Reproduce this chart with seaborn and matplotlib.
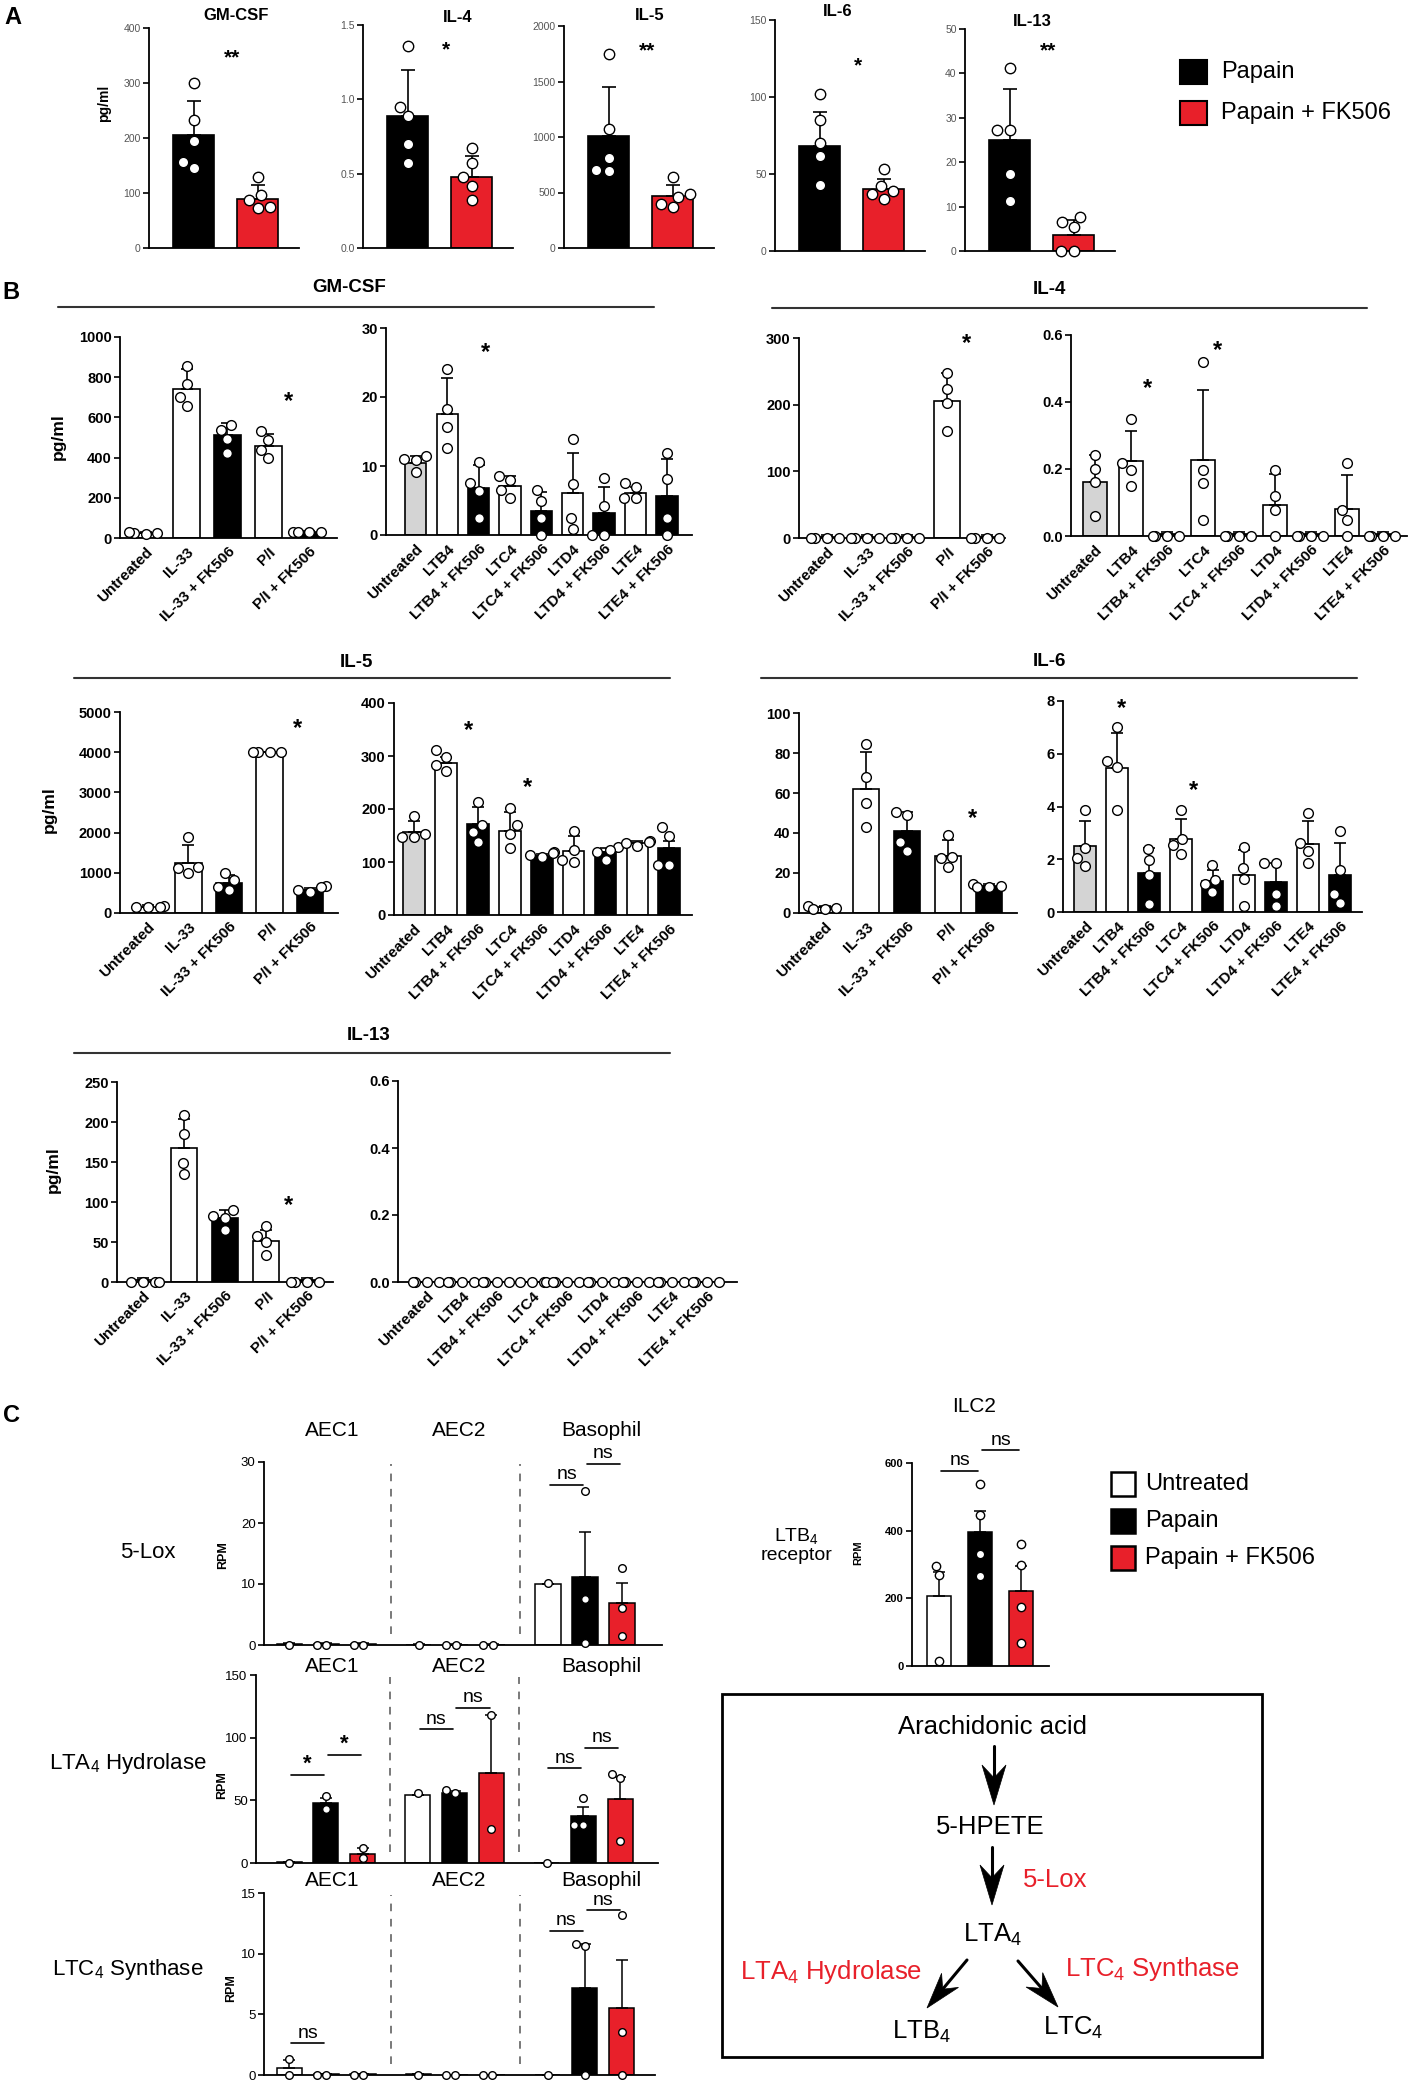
import warnings
warnings.filterwarnings('ignore')
import numpy as np
import pandas as pd
import matplotlib
matplotlib.use('Agg')
import matplotlib.pyplot as plt
from matplotlib.patches import Rectangle, Polygon
from matplotlib.lines import Line2D
import seaborn as sns

# ======================= DATA =======================
# ---- Panel A ----
A_cytokines = ['GM-CSF', 'IL-4', 'IL-5', 'IL-6', 'IL-13']
A_groups = ['Papain', 'Papain + FK506']
A_means = [[205, 90], [0.89, 0.48], [1010, 470], [68, 40], [25, 3.5]]
A_errs = [[63, 24], [0.305, 0.14], [440, 95], [22, 7], [11.4, 3.5]]
A_points = [
    [[300, 232, 195, 157, 145], [129, 97, 88, 75, 72]],
    [[1.36, 0.95, 0.89, 0.70, 0.57], [0.67, 0.57, 0.48, 0.42, 0.32]],
    [[1750, 1070, 810, 700, 690], [640, 486, 462, 394, 365]],
    [[102, 85, 70, 62, 43], [53, 42, 39, 37, 34]],
    [[41.2, 27.3, 27.3, 17.3, 11.2], [7.7, 6.5, 5.4, 0, 0]],
]
A_ymax = [400, 1.5, 2000, 150, 50]
A_ystep = [100, 0.5, 500, 50, 10]
A_stars = ['**', '*', '**', '*', '**']
A_star_y = [345, 1.33, 1780, 120, 45]

# ---- Panel B ----
B_cytokines = ['GM-CSF', 'IL-4', 'IL-5', 'IL-6', 'IL-13']
B_left_cats = ['Untreated', 'IL-33', 'IL-33 + FK506', 'P/I', 'P/I + FK506']
B_right_cats = ['Untreated', 'LTB4', 'LTB4 + FK506', 'LTC4', 'LTC4 + FK506',
                'LTD4', 'LTD4 + FK506', 'LTE4', 'LTE4 + FK506']
B_left_colors = ['white', 'white', 'black', 'white', 'black']
B_right_colors = ['#d4d4d4', 'white', 'black', 'white', 'black', 'white', 'black', 'white', 'black']

B_left_means = {
    'GM-CSF': [25, 740, 510, 458, 30],
    'IL-4': [2, 2, 2, 205, 2],
    'IL-5': [150, 1256, 749, 4002, 582],
    'IL-6': [2.8, 62, 41, 28.6, 13.3],
    'IL-13': [3, 168, 80.6, 51, 3],
}
B_left_errs = {
    'GM-CSF': [3, 100, 63, 60, 4],
    'IL-4': [2.5, 2.5, 2.5, 42, 2.5],
    'IL-5': [50, 433, 208, 0, 50],
    'IL-6': [0.8, 18.6, 9.5, 7.7, 1],
    'IL-13': [2, 35.5, 9, 14, 2],
}
B_left_points = {
    'GM-CSF': [[22, 25, 28, 25], [857, 768, 701, 655], [564, 539, 493, 423],
               [531, 489, 440, 398], [28, 30, 32, 28]],
    'IL-4': [[0, 0, 0, 0], [0, 0, 0, 0], [0, 0, 0, 0], [247, 224, 203, 160], [0, 0, 0, 0]],
    'IL-5': [[150, 170, 160, 140], [1900, 1150, 1130, 1000], [990, 824, 640, 574],
             [4000, 4000, 4000, 4000], [660, 640, 560, 520]],
    'IL-6': [[2, 3.7, 2.5, 2], [84.7, 67.8, 54.8, 42.9], [49, 50.5, 35.5, 31],
             [39, 28.2, 27.3, 22.9], [14.6, 13.6, 13, 13]],
    'IL-13': [[0, 0, 0, 0], [208.5, 185.6, 148.3, 134.5], [90, 82, 80, 65],
              [70, 57.7, 49.4, 33.2], [0, 0, 0, 0]],
}
B_right_means = {
    'GM-CSF': [10.4, 17.5, 6.8, 7.1, 3.5, 6.1, 3.2, 6.1, 5.7],
    'IL-4': [0.16, 0.223, 0.006, 0.226, 0.006, 0.094, 0.006, 0.082, 0.006],
    'IL-5': [156, 287, 172, 159, 112, 121, 118, 135, 126],
    'IL-6': [2.49, 5.47, 1.49, 2.76, 1.18, 1.39, 1.14, 2.59, 1.42],
    'IL-13': [0, 0, 0, 0, 0, 0, 0, 0, 0],
}
B_right_errs = {
    'GM-CSF': [1.0, 5.2, 3.4, 1.4, 2.7, 5.8, 3.7, 0.8, 5.3],
    'IL-4': [0.083, 0.091, 0.006, 0.21, 0.006, 0.092, 0.006, 0.099, 0.006],
    'IL-5': [22, 12, 31, 35, 3, 29, 8, 4, 14],
    'IL-6': [0.96, 1.32, 0.94, 0.75, 0.4, 0.95, 0.73, 0.86, 1.21],
    'IL-13': [0, 0, 0, 0, 0, 0, 0, 0, 0],
}
B_right_points = {
    'GM-CSF': [[11.5, 11, 10.8, 9.1], [24.1, 18.3, 15.7, 12.6], [10.6, 7.5, 6.4, 2.5],
               [8.6, 8, 6.5, 5.4], [6.5, 5.0, 2.5, 0], [13.9, 7.4, 2.5, 0.9],
               [8.2, 4.2, 0, 0], [7.6, 7, 5.3, 5.3], [11.9, 8.1, 2.5, 0]],
    'IL-4': [[0.243, 0.2, 0.16, 0.06], [0.349, 0.218, 0.198, 0.149], [0, 0, 0, 0],
             [0.518, 0.198, 0.158, 0.049], [0, 0, 0, 0], [0.198, 0.119, 0.079, 0],
             [0, 0, 0, 0], [0.218, 0.079, 0.049, 0], [0, 0, 0, 0]],
    'IL-5': [[187, 153, 147, 147], [311, 299, 283, 271], [214, 170, 156, 137],
             [202, 170, 153, 126], [118, 117, 113, 110], [159, 123, 104, 100],
             [129, 123, 118, 104], [139, 137, 135, 131], [166, 150, 94, 94]],
    'IL-6': [[3.86, 2.44, 2.05, 1.74], [7.02, 5.72, 5.5, 3.86], [2.38, 1.96, 1.39, 0.29],
             [3.86, 2.78, 2.53, 2.21], [1.77, 1.23, 1.07, 0.76], [2.47, 1.68, 1.26, 0.21],
             [1.87, 1.87, 0.7, 0.21], [3.75, 2.62, 2.31, 1.87], [3.06, 1.6, 0.7, 0.34]],
    'IL-13': [[0, 0, 0, 0]] * 9,
}
B_left_ymax = {'GM-CSF': 1000, 'IL-4': 300, 'IL-5': 5000, 'IL-6': 100, 'IL-13': 250}
B_left_ystep = {'GM-CSF': 200, 'IL-4': 100, 'IL-5': 1000, 'IL-6': 20, 'IL-13': 50}
B_right_ymax = {'GM-CSF': 30, 'IL-4': 0.6, 'IL-5': 400, 'IL-6': 8, 'IL-13': 0.6}
B_right_ystep = {'GM-CSF': 10, 'IL-4': 0.2, 'IL-5': 100, 'IL-6': 2, 'IL-13': 0.2}
B_left_star = {'GM-CSF': (3.5, 677), 'IL-4': (3.5, 291), 'IL-5': (3.68, 4577),
               'IL-6': (3.6, 47), 'IL-13': (3.54, 96)}
B_right_stars = {'GM-CSF': [(2.23, 26.5)], 'IL-4': [(1.47, 0.44), (3.4, 0.555)],
                 'IL-5': [(1.7, 349), (3.54, 241)], 'IL-6': [(1.13, 7.7), (3.4, 4.59)],
                 'IL-13': []}

# ---- Panel C ----
C_cells = ['AEC1', 'AEC2', 'Basophil']
C_conditions = ['Untreated', 'Papain', 'Papain + FK506']
C_genes = ['5-Lox', 'LTA$_4$ Hydrolase', 'LTC$_4$ Synthase']
lox_means = [0.15, 0.15, 0.15, 0.08, 0.08, 0.08, 10.0, 11.2, 6.9]
lox_errs = [0.1, 0.1, 0.1, 0.05, 0.05, 0.05, 0, 7.4, 3.3]
lox_points = [[0], [0, 0], [0, 0], [0], [0, 0], [0, 0], [10.2], [25.3, 7.5, 0.3], [12.7, 6.0, 1.5]]
lta_means = [1, 48.1, 7.4, 54.2, 56.1, 72.2, 0, 37.6, 51.1]
lta_errs = [0, 3.5, 4.5, 0, 1.3, 45.5, 0, 7.4, 17.7]
lta_points = [[0], [53.4, 42.9], [11.9, 4], [56.1], [58.2, 55.6], [118, 27], [0],
              [51.6, 30.4, 30.4], [71.4, 67.5, 17.7]]
ltc_means = [0.55, 0.05, 0.05, 0.05, 0.02, 0.02, 0, 7.18, 5.54]
ltc_errs = [0.68, 0.03, 0.03, 0.03, 0, 0, 0, 3.6, 3.9]
ltc_points = [[1.29, 0], [0, 0], [0, 0], [0], [0, 0], [0, 0], [0], [10.8, 10.6, 0], [13.2, 3.56, 0]]
C_ymax = [30, 150, 15]
C_ystep = [10, 50, 5]
# significance: (cell, cond_a, cond_b, height, label)
lox_sig = [('Basophil', 0, 1, 26.3, 'ns'), ('Basophil', 1, 2, 29.7, 'ns')]
lta_sig = [('AEC1', 0, 1, 70.6, '*'), ('AEC1', 1, 2, 86.5, '*'),
           ('AEC2', 0, 1, 107, 'ns'), ('AEC2', 1, 2, 124, 'ns'),
           ('Basophil', 0, 1, 75.4, 'ns'), ('Basophil', 1, 2, 92, 'ns')]
ltc_sig = [('AEC1', 0, 1, 2.6, 'ns'), ('Basophil', 0, 1, 11.9, 'ns'), ('Basophil', 1, 2, 13.6, 'ns')]

ilc2_means = [208, 395, 223]
ilc2_errs = [71, 64, 74]
ilc2_points = [[296, 269, 16], [538, 447, 331, 267], [362, 299, 174, 67]]
ilc2_sig = [(0, 1, 577, 'ns'), (1, 2, 637, 'ns')]

path_nodes = ['Arachidonic acid', '5-HPETE', 'LTA$_4$', 'LTB$_4$', 'LTC$_4$']
path_enzymes = ['5-Lox', 'LTA$_4$ Hydrolase', 'LTC$_4$ Synthase']

# ======================= STYLE =======================
RED = '#e8202a'
GRAY = '#d4d4d4'
C_colors = ['white', 'black', RED]

sns.set_theme(style='ticks')
plt.rcParams['font.family'] = ['Liberation Sans Narrow', 'Liberation Sans', 'DejaVu Sans']
plt.rcParams['mathtext.fontset'] = 'custom'
plt.rcParams['mathtext.rm'] = 'Liberation Sans'
plt.rcParams['mathtext.it'] = 'Liberation Sans:italic'
plt.rcParams['mathtext.bf'] = 'Liberation Sans:bold'
plt.rcParams['axes.edgecolor'] = 'black'
plt.rcParams['xtick.color'] = 'black'
plt.rcParams['ytick.color'] = 'black'
plt.rcParams['text.color'] = 'black'

W, H = 1409, 2083
fig = plt.figure(figsize=(W / 100, H / 100), dpi=100)
fig.patch.set_facecolor('white')
WIDE = ['Liberation Sans', 'DejaVu Sans']


def px_axes(left, top, right, bottom):
    return fig.add_axes([left / W, 1 - bottom / H, (right - left) / W, (bottom - top) / H])


def fp(x, y):
    return (x / W, 1 - y / H)


def ftext(x, y, s, **kw):
    kw.setdefault('ha', 'center')
    kw.setdefault('va', 'center')
    fig.text(x / W, 1 - y / H, s, **kw)


def hline_px(x1, x2, y, lw=1.5, color='#333333'):
    fig.add_artist(Line2D([x1 / W, x2 / W], [1 - y / H, 1 - y / H],
                          transform=fig.transFigure, lw=lw, color=color))


def style_ax(ax, ymax, step, xlim, fs, bold=False, color='black', family=None):
    ax.set_ylim(0, ymax)
    ticks = np.arange(0, ymax + step * 0.01, step)
    ax.set_yticks(ticks)
    labels = [f'{t:.1f}' for t in ticks] if step < 1 else [f'{t:g}' for t in ticks]
    kw = dict(fontsize=fs, fontweight='bold' if bold else 'normal', color=color)
    if family:
        kw['family'] = family
    ax.set_yticklabels(labels, **kw)
    ax.set_xlim(*xlim)
    for s in ['top', 'right']:
        ax.spines[s].set_visible(False)
    for s in ['left', 'bottom']:
        ax.spines[s].set_linewidth(1.3)
        ax.spines[s].set_color('black')
    ax.tick_params(axis='y', length=4, width=1.2, pad=2)
    ax.tick_params(axis='x', length=0)
    ax.set_xlabel('')
    ax.set_ylabel('')
    ax.set_facecolor('none')


def draw_bars(ax, xs, means, errs, colors, points, width, msize, capsize=4.5, lw=1.2):
    xs = np.asarray(xs, dtype=float)
    df = pd.DataFrame({'x': xs, 'y': means, 'k': [str(i) for i in range(len(xs))]})
    sns.barplot(data=df, x='x', y='y', hue='k', palette=list(colors), native_scale=True,
                dodge=False, width=width, edgecolor='black', linewidth=lw,
                errorbar=None, legend=False, ax=ax, saturation=1)
    e = np.asarray(errs, dtype=float)
    ax.errorbar(xs, means, yerr=[np.zeros_like(e), e], fmt='none', ecolor='black',
                elinewidth=lw, capsize=capsize, capthick=lw, zorder=3)
    n_before = len(ax.collections)
    pdf = pd.DataFrame({'x': np.repeat(xs, [len(p) for p in points]),
                        'y': np.concatenate([np.asarray(p, dtype=float) for p in points])})
    sns.swarmplot(data=pdf, x='x', y='y', native_scale=True, color='white',
                  edgecolor='black', linewidth=1.0, size=msize, ax=ax)
    for c in ax.collections[n_before:]:
        c.set_zorder(4)
        c.set_clip_on(False)


# ======================= PANEL A =======================
ftext(13, 18, 'A', fontsize=17, fontweight='bold', family=WIDE)
A_left = [149, 363, 564, 775, 965]
A_top = [28, 25, 26, 20, 29]
A_bottom = [248, 248, 248, 251, 251]
A_title_xy = [(236, 15), (458, 17), (650, 15), (838, 11), (1032, 22)]
for i, cyt in enumerate(A_cytokines):
    ax = px_axes(A_left[i], A_top[i], A_left[i] + 150, A_bottom[i])
    draw_bars(ax, [0, 1], A_means[i], A_errs[i], ['black', RED], A_points[i],
              width=0.65, msize=7.5, capsize=5)
    style_ax(ax, A_ymax[i], A_ystep[i], (-0.7, 1.65), 7.5, color='#555555')
    ax.set_xticks([])
    ax.text(0.6, A_star_y[i], A_stars[i], ha='center', va='center', fontsize=15,
            fontweight='bold')
    ftext(*A_title_xy[i], cyt, fontsize=12, fontweight='bold')
ftext(104, 103, 'pg/ml', fontsize=10, fontweight='bold', rotation=90)

# legend A
for j, (lab, col) in enumerate(zip(A_groups, ['black', RED])):
    y0 = 60 + j * 41
    fig.add_artist(Rectangle(fp(1180, y0 + 24), 27 / W, 24 / H,
                             transform=fig.transFigure, facecolor=col,
                             edgecolor='black', lw=1.5))
    ftext(1221, y0 + 12, lab, ha='left', fontsize=17, family=WIDE)

# ======================= PANEL B =======================
ftext(11, 293, 'B', fontsize=17, fontweight='bold', family=WIDE)
B_layout = {
    'GM-CSF': dict(title=(349, 288), line=(58, 654, 307), ylabel=(58, 437),
                   L=(120, 337, 337, 538), Lx=(-0.63, 4.68),
                   R=(386, 328, 692, 535), Rx=(-0.95, 8.8)),
    'IL-4': dict(title=(1049, 290), line=(772, 1367, 308), ylabel=None,
                 L=(799, 338, 1005, 538), Lx=(-0.7, 4.45),
                 R=(1071, 335, 1407, 536), Rx=(-0.67, 8.67)),
    'IL-5': dict(title=(356, 663), line=(74, 670, 678), ylabel=(49, 810),
                 L=(120, 712, 338, 913), Lx=(-0.69, 4.69),
                 R=(394, 703, 692, 915), Rx=(-0.63, 8.71)),
    'IL-6': dict(title=(1049, 662), line=(761, 1357, 678), ylabel=None,
                 L=(799, 713, 1017, 913), Lx=(-0.63, 4.68),
                 R=(1063, 701, 1362, 912), Rx=(-0.7, 8.7)),
    'IL-13': dict(title=(369, 1035), line=(74, 670, 1053), ylabel=(53, 1170),
                  L=(117, 1082, 333, 1282), Lx=(-0.63, 4.63),
                  R=(398, 1081, 737, 1282), Rx=(-0.83, 8.86)),
}
for cyt in B_cytokines:
    lay = B_layout[cyt]
    ftext(*lay['title'], cyt, fontsize=13.5, fontweight='bold')
    hline_px(lay['line'][0], lay['line'][1], lay['line'][2])
    if lay['ylabel']:
        ftext(*lay['ylabel'], 'pg/ml', fontsize=12.5, fontweight='bold', rotation=90)
    # left
    axl = px_axes(*lay['L'])
    xl = np.arange(len(B_left_cats))
    draw_bars(axl, xl, B_left_means[cyt], B_left_errs[cyt], B_left_colors,
              B_left_points[cyt], width=0.65, msize=7)
    style_ax(axl, B_left_ymax[cyt], B_left_ystep[cyt], lay['Lx'], 10.5, bold=True)
    axl.set_xticks(xl)
    axl.set_xticklabels(B_left_cats, rotation=45, ha='right', rotation_mode='anchor',
                        fontsize=11, fontweight='bold')
    axl.tick_params(axis='x', pad=5)
    sx, sy = B_left_star[cyt]
    axl.text(sx, sy, '*', ha='center', va='center', fontsize=17, fontweight='bold')
    # right
    axr = px_axes(*lay['R'])
    xr = np.arange(len(B_right_cats))
    draw_bars(axr, xr, B_right_means[cyt], B_right_errs[cyt], B_right_colors,
              B_right_points[cyt], width=0.68, msize=7)
    style_ax(axr, B_right_ymax[cyt], B_right_ystep[cyt], lay['Rx'], 10.5, bold=True)
    axr.set_xticks(xr)
    axr.set_xticklabels(B_right_cats, rotation=45, ha='right', rotation_mode='anchor',
                        fontsize=11, fontweight='bold')
    axr.tick_params(axis='x', pad=5)
    for sx, sy in B_right_stars[cyt]:
        axr.text(sx, sy, '*', ha='center', va='center', fontsize=17, fontweight='bold')

# ======================= PANEL C =======================
ftext(12, 1415, 'C', fontsize=17, fontweight='bold', family=WIDE)
C_axes_px = [(264, 1462, 662, 1645), (256, 1675, 658, 1863), (264, 1893, 655, 2075)]
C_xlims = [(-0.68, 10.08), (-0.9, 10.03), (-0.68, 9.9)]
C_title_y = [1430, 1667, 1880]
C_title_x = [332, 459, 601]
C_label_xy = [(148, 1552), (128, 1763), (128, 1970)]
C_rpm_xy = [(223, 1555), (222, 1785), (231, 1988)]
C_data = [(lox_means, lox_errs, lox_points, lox_sig),
          (lta_means, lta_errs, lta_points, lta_sig),
          (ltc_means, ltc_errs, ltc_points, ltc_sig)]
GROUP_GAP = 3.5
xs_c = np.array([g * GROUP_GAP + m for g in range(3) for m in range(3)], dtype=float)
for r in range(3):
    means, errs, pts, sigs = C_data[r]
    ax = px_axes(*C_axes_px[r])
    draw_bars(ax, xs_c, means, errs, C_colors * 3, pts, width=0.68, msize=5.5,
              capsize=4, lw=1.1)
    style_ax(ax, C_ymax[r], C_ystep[r], C_xlims[r], 9.5)
    ax.set_xticks([])
    for xv in [2.75, 2 + GROUP_GAP + 0.75]:
        ax.axvline(xv, ymin=0.06, ymax=0.99, color='#555555', lw=1.1, dashes=(5, 5))
    for cell, a, b, h, lab in sigs:
        g = C_cells.index(cell)
        x1, x2 = g * GROUP_GAP + a, g * GROUP_GAP + b
        ax.plot([x1 + 0.05, x2 - 0.05], [h, h], color='black', lw=1.2, clip_on=False)
        if lab == '*':
            ax.annotate(lab, ((x1 + x2) / 2, h), xytext=(0, 0), textcoords='offset points',
                        ha='center', va='bottom', fontsize=16, fontweight='bold',
                        annotation_clip=False)
        else:
            ax.annotate(lab, ((x1 + x2) / 2, h), xytext=(0, 1), textcoords='offset points',
                        ha='center', va='bottom', fontsize=14, annotation_clip=False)
    for g, cell in enumerate(C_cells):
        ftext(C_title_x[g], C_title_y[r], cell, fontsize=15)
    ftext(*C_label_xy[r], C_genes[r], fontsize=16, family=WIDE)
    ftext(*C_rpm_xy[r], 'RPM', fontsize=9, rotation=90, fontweight='bold', family=WIDE)

# ILC2
ax = px_axes(912, 1463, 1049, 1666)
x_i = np.arange(3)
draw_bars(ax, x_i, ilc2_means, ilc2_errs, C_colors, ilc2_points, width=0.6, msize=6,
          capsize=4, lw=1.1)
style_ax(ax, 600, 200, (-0.66, 2.68), 8, bold=True, family=WIDE)
ax.set_xticks([])
for a, b, h, lab in ilc2_sig:
    ax.plot([a + 0.05, b - 0.05], [h, h], color='black', lw=1.2, clip_on=False)
    ax.annotate(lab, ((a + b) / 2, h), xytext=(0, 1), textcoords='offset points',
                ha='center', va='bottom', fontsize=14, annotation_clip=False)
ftext(974, 1407, 'ILC2', fontsize=15)
ftext(797, 1545, 'LTB$_4$\nreceptor', fontsize=14, family=WIDE, linespacing=1.1)
ftext(858, 1553, 'RPM', fontsize=8, rotation=90, fontweight='bold', family=WIDE)

# legend C
for j, (lab, col) in enumerate(zip(C_conditions, C_colors)):
    yc = 1484 + j * 37
    fig.add_artist(Rectangle(fp(1111, yc + 12), 24 / W, 24 / H,
                             transform=fig.transFigure, facecolor=col,
                             edgecolor='black', lw=1.8))
    ftext(1145, yc, lab, ha='left', fontsize=17, family=WIDE)

# pathway box
fig.add_artist(Rectangle(fp(722, 2057), 540 / W, 363 / H,
                         transform=fig.transFigure, facecolor='none',
                         edgecolor='black', lw=2))
ftext(992, 1727, path_nodes[0], fontsize=18.5, family=WIDE)
ftext(990, 1827, path_nodes[1], fontsize=18.5, family=WIDE)
ftext(992, 1935, path_nodes[2], fontsize=18.5, family=WIDE)
ftext(921, 2032, path_nodes[3], fontsize=18.5, family=WIDE)
ftext(1073, 2028, path_nodes[4], fontsize=18.5, family=WIDE)
ftext(1023, 1880, path_enzymes[0], fontsize=18.5, color=RED, ha='left', family=WIDE)
ftext(831, 1972, path_enzymes[1], fontsize=18.5, color=RED, family=WIDE)
ftext(1152, 1969, path_enzymes[2], fontsize=18.5, color=RED, family=WIDE)


def arrow_px(p0, p1, head_len=40, head_w=12):
    p0 = np.array(p0, dtype=float)
    p1 = np.array(p1, dtype=float)
    d = (p1 - p0) / np.linalg.norm(p1 - p0)
    n = np.array([-d[1], d[0]])
    back = p1 - head_len * d
    notch = p1 - 0.68 * head_len * d
    shaft_end = notch
    fig.add_artist(Line2D([p0[0] / W, shaft_end[0] / W], [1 - p0[1] / H, 1 - shaft_end[1] / H],
                          transform=fig.transFigure, lw=2.2, color='black'))
    pts = [p1, back + head_w * n, notch, back - head_w * n]
    fig.add_artist(Polygon([fp(*p) for p in pts], closed=True, transform=fig.transFigure,
                           facecolor='black', edgecolor='black', lw=0.5))


arrow_px((994, 1746), (994, 1805))
arrow_px((992, 1847), (992, 1905))
arrow_px((967, 1960), (927, 2008), head_len=36, head_w=11)
arrow_px((1018, 1961), (1058, 2007), head_len=36, head_w=11)

fig.savefig('out.png', dpi=100, facecolor='white')
